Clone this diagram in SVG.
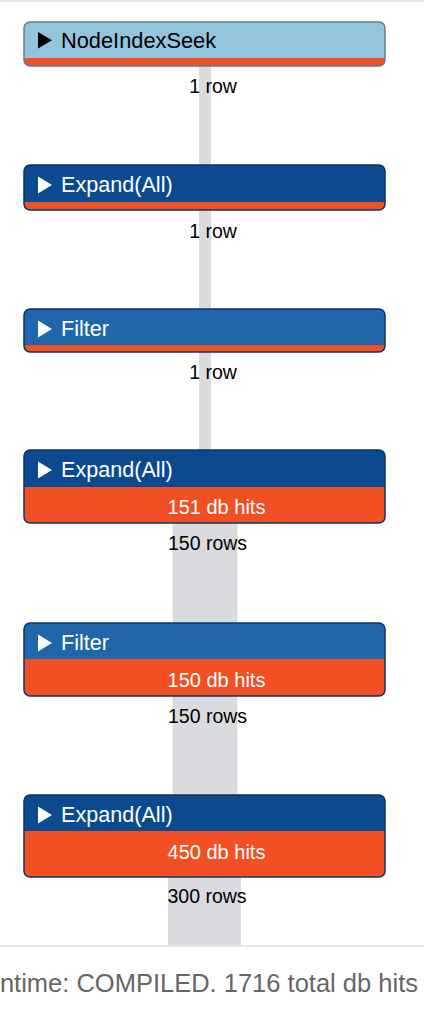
<svg xmlns="http://www.w3.org/2000/svg" width="424" height="1012" viewBox="0 0 424 1012">
<style>
.t{font-family:"Liberation Sans",Arial,sans-serif}
.title{font-size:21.6px;fill:#fff}
.hits{font-size:20px;fill:#fff;text-anchor:middle}
.rows{font-size:19.5px;fill:#000;text-anchor:middle}
.band{fill:#DADBDF}
.orange{fill:#F05024}
.expand{fill:#0C4A8F}
.filter{fill:#1F66AB}
.frame{fill:none;stroke:#0B3466;stroke-width:1.5}
.tri{fill:#fff}
</style>
<defs>
<clipPath id="c1"><rect x="24" y="22" width="361" height="44" rx="6"/></clipPath>
<clipPath id="c2"><rect x="24" y="165" width="361" height="45" rx="6"/></clipPath>
<clipPath id="c3"><rect x="24" y="309" width="361" height="43" rx="6"/></clipPath>
<clipPath id="c4"><rect x="24" y="450" width="361" height="73" rx="6"/></clipPath>
<clipPath id="c5"><rect x="24" y="623" width="361" height="73" rx="6"/></clipPath>
<clipPath id="c6"><rect x="24" y="795" width="361" height="82" rx="6"/></clipPath>
</defs>
<rect x="0" y="0" width="424" height="1012" fill="#fff"/>
<rect x="0" y="0" width="424" height="2" fill="#E0E2E6"/>
<g id="connectors">
<rect class="band" x="199" y="60" width="12" height="400"/>
<rect class="band" x="172.5" y="515" width="65" height="290"/>
<rect class="band" x="168" y="870" width="73" height="76"/>
</g>
<g id="node1">
<g clip-path="url(#c1)">
<rect x="24" y="22" width="361" height="44" fill="#94C3DC"/>
<rect class="orange" x="24" y="58" width="361" height="8"/>
</g>
<rect x="24" y="22" width="361" height="44" rx="6" fill="none" stroke="#5D7E91" stroke-width="1.5"/>
<polygon points="38,32 38,48.5 52,40.3" fill="#000"/>
<text class="t" x="61" y="48.3" font-size="21.8" fill="#000">NodeIndexSeek</text>
<text class="t rows" x="213" y="93.3">1 row</text>
</g>
<g id="node2">
<g clip-path="url(#c2)">
<rect class="expand" x="24" y="165" width="361" height="45"/>
<rect class="orange" x="24" y="202" width="361" height="8"/>
</g>
<rect class="frame" x="24" y="165" width="361" height="45" rx="6"/>
<polygon class="tri" points="38,176.5 38,193.5 52,185"/>
<text class="t title" x="61" y="191.7">Expand(All)</text>
<text class="t rows" x="213" y="238.3">1 row</text>
</g>
<g id="node3">
<g clip-path="url(#c3)">
<rect class="filter" x="24" y="309" width="361" height="43"/>
<rect class="orange" x="24" y="345" width="361" height="7"/>
</g>
<rect class="frame" x="24" y="309" width="361" height="43" rx="6"/>
<polygon class="tri" points="38,320.5 38,337.5 52,329"/>
<text class="t title" x="61" y="336">Filter</text>
<text class="t rows" x="213" y="379.3">1 row</text>
</g>
<g id="node4">
<g clip-path="url(#c4)">
<rect class="expand" x="24" y="450" width="361" height="37"/>
<rect class="orange" x="24" y="487" width="361" height="36"/>
</g>
<rect class="frame" x="24" y="450" width="361" height="73" rx="6"/>
<polygon class="tri" points="38,461.5 38,478.5 52,470"/>
<text class="t title" x="61" y="476.7">Expand(All)</text>
<text class="t hits" x="216.5" y="514">151 db hits</text>
<text class="t rows" x="207.5" y="550">150 rows</text>
</g>
<g id="node5">
<g clip-path="url(#c5)">
<rect class="filter" x="24" y="623" width="361" height="36"/>
<rect class="orange" x="24" y="659" width="361" height="37"/>
</g>
<rect class="frame" x="24" y="623" width="361" height="73" rx="6"/>
<polygon class="tri" points="38,634.5 38,651.5 52,643"/>
<text class="t title" x="61" y="650">Filter</text>
<text class="t hits" x="216.5" y="687.3">150 db hits</text>
<text class="t rows" x="207.5" y="723.3">150 rows</text>
</g>
<g id="node6">
<g clip-path="url(#c6)">
<rect class="expand" x="24" y="795" width="361" height="36"/>
<rect class="orange" x="24" y="831" width="361" height="46"/>
</g>
<rect class="frame" x="24" y="795" width="361" height="82" rx="6"/>
<polygon class="tri" points="38,806.5 38,823.5 52,815"/>
<text class="t title" x="61" y="822">Expand(All)</text>
<text class="t hits" x="216.5" y="859.3">450 db hits</text>
<text class="t rows" x="207" y="903.3">300 rows</text>
</g>
<rect x="0" y="945" width="424" height="2" fill="#E3E5E8"/>
<text class="t" x="418" y="992" font-size="25.5" fill="#666" text-anchor="end">ntime: COMPILED. 1716 total db hits</text>
</svg>
